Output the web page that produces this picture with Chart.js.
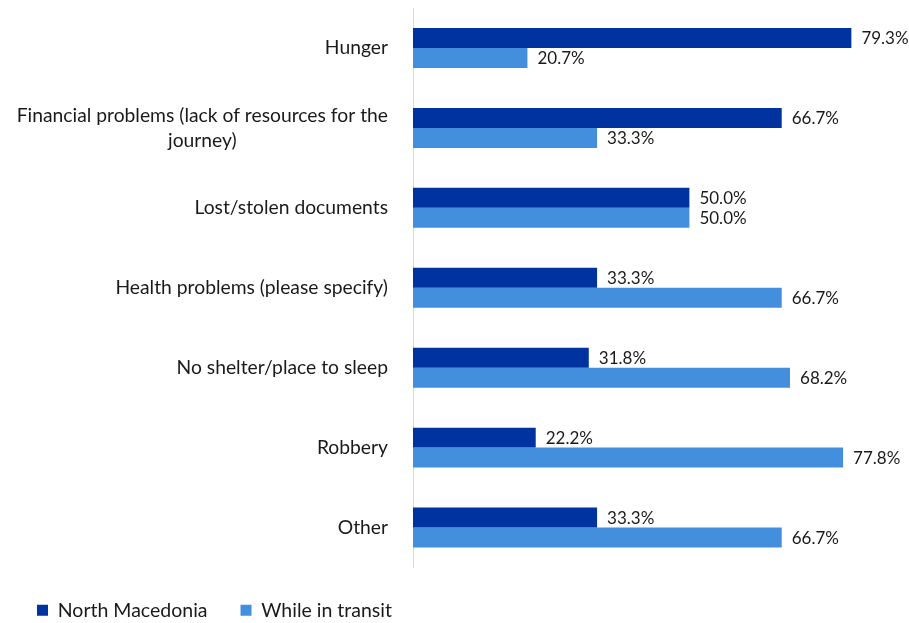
<!DOCTYPE html>
<html><head><meta charset="utf-8">
<script src="https://cdn.jsdelivr.net/npm/chart.js@4"></script>
<style>html,body{margin:0;padding:0;background:#fff}#w{width:909px;height:623px}</style>
</head><body><div id="w"><canvas id="c"></canvas></div>
<script>
const categories = [
  ["Hunger"],
  ["Financial problems (lack of resources for the", "journey)"],
  ["Lost/stolen documents"],
  ["Health problems (please specify)"],
  ["No shelter/place to sleep"],
  ["Robbery"],
  ["Other"]
];
const northMacedonia = [79.3, 66.7, 50.0, 33.3, 31.8, 22.2, 33.3];
const whileInTransit = [20.7, 33.3, 50.0, 66.7, 68.2, 77.8, 66.7];
const seriesNames = ["North Macedonia", "While in transit"];

const FONT = "Lato, 'Open Sans', sans-serif";

const labelPlugin = {
  id: 'labels',
  afterDatasetsDraw(chart) {
    const ctx = chart.ctx;
    ctx.save();
    ctx.font = "17px " + FONT;
    ctx.fillStyle = "#1a1a1a";
    ctx.textBaseline = "middle";
    ctx.textAlign = "left";
    chart.data.datasets.forEach((ds, i) => {
      chart.getDatasetMeta(i).data.forEach((bar, j) => {
        ctx.fillText(ds.data[j].toFixed(1) + "%", bar.x + 10, bar.y + 1);
      });
    });
    // category labels
    ctx.font = "19.3px " + FONT;
    const y = chart.scales.y;
    const lh = 25;
    categories.forEach((lines, j) => {
      const cy = y.getPixelForTick(j);
      const top = cy - (lines.length - 1) * lh / 2;
      if (lines.length === 1) {
        ctx.textAlign = "right";
        ctx.fillText(lines[0], 388, cy);
      } else {
        let maxW = 0;
        lines.forEach(l => { maxW = Math.max(maxW, ctx.measureText(l).width); });
        const center = 388 - maxW / 2;
        ctx.textAlign = "center";
        lines.forEach((l, k) => ctx.fillText(l, center, top + k * lh));
      }
    });
    ctx.restore();
  }
};

new Chart(document.getElementById('c'), {
  type: 'bar',
  data: {
    labels: categories.map(c => c.join(" ")),
    datasets: [
      { label: seriesNames[0], data: northMacedonia, backgroundColor: "#0033A0" },
      { label: seriesNames[1], data: whileInTransit, backgroundColor: "#448FDD" }
    ]
  },
  options: {
    indexAxis: 'y',
    responsive: true,
    maintainAspectRatio: false,
    animation: false,
    layout: { padding: { left: 4, top: 8, right: 4, bottom: -7 } },
    datasets: { bar: { categoryPercentage: 0.5, barPercentage: 1.0 } },
    scales: {
      x: { display: false, min: 0, max: 89 },
      y: {
        grid: { display: false },
        border: { display: true, color: "#d9d9d9", width: 1 },
        ticks: { display: false },
        afterFit(scale) { scale.width = 409; }
      }
    },
    plugins: {
      legend: {
        position: 'bottom',
        align: 'start',
        labels: {
          font: { family: FONT, size: 19.5 },
          color: "#1a1a1a",
          boxWidth: 11,
          boxHeight: 11,
          padding: 33
        }
      },
      tooltip: { enabled: false }
    }
  },
  plugins: [labelPlugin]
});
</script>
</body></html>
